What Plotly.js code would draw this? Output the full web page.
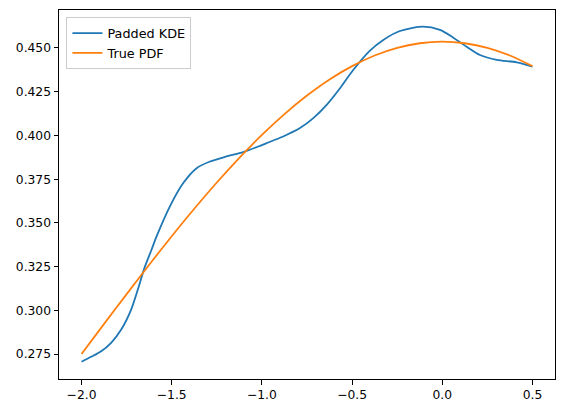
<!DOCTYPE html>
<html>
<head>
<meta charset="utf-8">
<script src="https://cdn.plot.ly/plotly-3.0.1.min.js"></script>
<style>
  html, body { margin: 0; padding: 0; background: #fff; }
  #chart { width: 565px; height: 413px; }
</style>
</head>
<body>
<div id="chart"></div>
<script>
// Padded kernel density estimate, sampled along the interval
const kdeX = [-2.0, -1.947, -1.891, -1.836, -1.78, -1.725, -1.688, -1.651, -1.612, -1.584, -1.51,
              -1.436, -1.362, -1.288, -1.196, -1.104, -1.02, -0.974, -0.882, -0.789, -0.715,
              -0.641, -0.567, -0.494, -0.401, -0.327, -0.235, -0.105, -0.013, 0.061,
              0.135, 0.209, 0.302, 0.413, 0.5];
const kdeY = [0.2707, 0.2735, 0.2767, 0.2815, 0.2891, 0.3005, 0.3119, 0.3243, 0.3347, 0.3423, 0.3595,
              0.3728, 0.3813, 0.3851, 0.388, 0.3905, 0.3937, 0.3956, 0.3994, 0.4042, 0.4099,
              0.4175, 0.427, 0.4374, 0.4485, 0.4546, 0.4597, 0.4622, 0.4603, 0.4559,
              0.4507, 0.446, 0.4432, 0.4418, 0.4393];

// Reference density on the same interval
const pdfX = [-2.0, -1.875, -1.75, -1.625, -1.5, -1.375, -1.25, -1.125, -1.0, -0.875, -0.75,
              -0.625, -0.5, -0.375, -0.25, -0.125, 0.0, 0.125, 0.25, 0.375, 0.5];
const pdfY = [0.2751, 0.2923, 0.3093, 0.3261, 0.3424, 0.3581, 0.3731, 0.3872, 0.4003, 0.4122, 0.4228,
              0.432, 0.4396, 0.4457, 0.4501, 0.4527, 0.4536, 0.4527, 0.4501, 0.4457, 0.4396];

// Axis ticks
const xTickVals = [-2.0, -1.5, -1.0, -0.5, 0.0, 0.5];
const xTickText = ["\u22122.0", "\u22121.5", "\u22121.0", "\u22120.5", "0.0", "0.5"];
const yTickVals = [0.275, 0.300, 0.325, 0.350, 0.375, 0.400, 0.425, 0.450];

const traces = [
  { x: kdeX, y: kdeY, type: "scatter", mode: "lines", name: "Padded KDE",
    line: { color: "#1f77b4", width: 1.8, shape: "spline", smoothing: 0.8 } },
  { x: pdfX, y: pdfY, type: "scatter", mode: "lines", name: "True PDF",
    line: { color: "#ff7f0e", width: 1.8, shape: "spline", smoothing: 0.8 } }
];

const axisCommon = {
  showgrid: false, zeroline: false, showline: true, mirror: true,
  linecolor: "#000", linewidth: 1, ticks: "outside", ticklen: 4.5,
  tickwidth: 1, tickcolor: "#000",
  tickfont: { family: "DejaVu Sans", size: 12.3, color: "#000" }
};

const layout = {
  width: 565, height: 413,
  margin: { l: 59, r: 10, t: 10, b: 34 },
  paper_bgcolor: "#fff", plot_bgcolor: "#fff",
  font: { family: "DejaVu Sans", size: 12.3, color: "#000" },
  showlegend: true,
  legend: {
    x: 0.015, y: 0.98, xanchor: "left", yanchor: "top",
    bgcolor: "rgba(255,255,255,0.8)", bordercolor: "#cccccc", borderwidth: 1,
    font: { family: "DejaVu Sans", size: 12.8, color: "#000" }
  },
  xaxis: Object.assign({}, axisCommon, {
    range: [-2.125, 0.625], tickvals: xTickVals, ticktext: xTickText
  }),
  yaxis: Object.assign({}, axisCommon, {
    range: [0.2608, 0.4717], tickvals: yTickVals, tickformat: ".3f"
  })
};

Plotly.newPlot("chart", traces, layout, { staticPlot: true, displayModeBar: false });
</script>
</body>
</html>
